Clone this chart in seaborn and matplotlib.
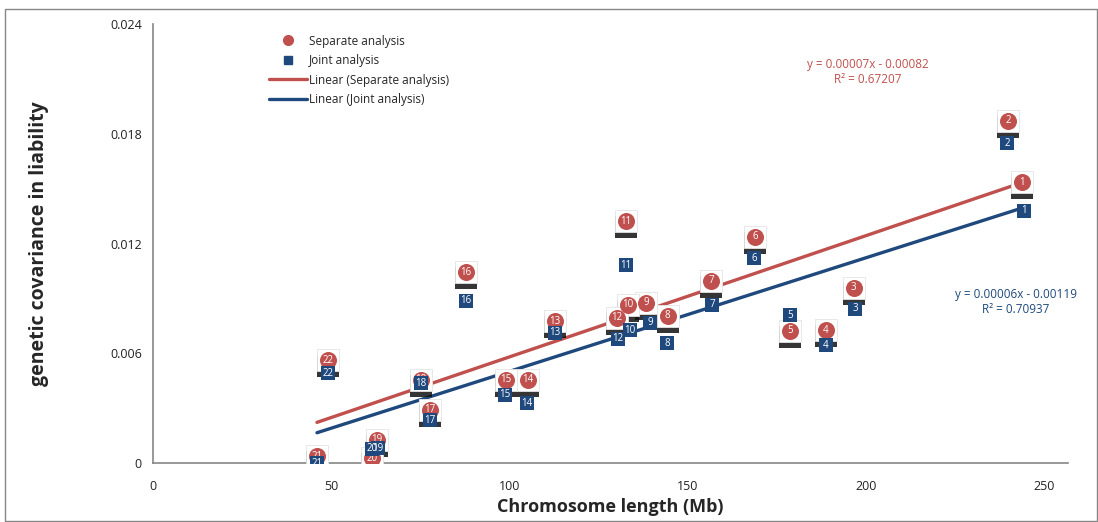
import matplotlib
matplotlib.use("Agg")
import matplotlib.pyplot as plt
import matplotlib.transforms as mtransforms
from matplotlib.lines import Line2D
from matplotlib.patches import Rectangle
import seaborn as sns
import pandas as pd

# ---- data ----
chromosomes = [str(i) for i in range(1, 23)]
sep_length = [243.8, 239.9, 196.6, 188.8, 178.7, 168.9, 156.5, 144.4, 138.3, 133.2, 132.7,
              130.2, 112.8, 105.2, 99.0, 87.8, 77.7, 75.2, 62.8, 61.4, 46.0, 49.1]
sep_cov = [0.01536, 0.01870, 0.00957, 0.00727, 0.00722, 0.01236, 0.00995, 0.00804, 0.00875,
           0.00864, 0.01323, 0.00793, 0.00776, 0.00454, 0.00454, 0.01044, 0.00290, 0.00454,
           0.00126, 0.00027, 0.00038, 0.00563]
joint_length = [244.3, 239.6, 196.9, 188.8, 178.7, 168.6, 156.8, 144.2, 139.4, 133.8, 132.7,
                130.4, 112.8, 104.9, 98.7, 87.8, 77.7, 75.2, 63.1, 61.4, 46.0, 49.1]
joint_cov = [0.01378, 0.01749, 0.00842, 0.00645, 0.00809, 0.01120, 0.00864, 0.00656, 0.00766,
             0.00727, 0.01082, 0.00678, 0.00711, 0.00328, 0.00372, 0.00886, 0.00235, 0.00437,
             0.00082, 0.00077, 0.00000, 0.00492]
x_ticks = [0, 50, 100, 150, 200, 250]
y_ticks = [0, 0.006, 0.012, 0.018, 0.024]
y_tick_labels = ["0", "0.006", "0.012", "0.018", "0.024"]
sep_eq = "y = 0.00007x - 0.00082\nR² = 0.67207"
joint_eq = "y = 0.00006x - 0.00119\nR² = 0.70937"

sep = pd.DataFrame({"length": sep_length, "cov": sep_cov, "chr": chromosomes})
joint = pd.DataFrame({"length": joint_length, "cov": joint_cov, "chr": chromosomes})

RED = "#C0504D"
BLUE = "#1F497D"
GRAY = "#868686"

sns.set_style("white")
plt.rcParams["font.family"] = ["Open Sans", "DejaVu Sans"]

fig = plt.figure(figsize=(10.98, 5.22), dpi=100)
W, H = 1098, 522
ax = fig.add_axes([153 / W, 1 - 463 / H, (1068 - 153) / W, (463 - 24) / H])

# outer chart border
fig.patches.append(Rectangle((5 / W, 1 / H), (W - 6) / W, 1 - 10 / H, transform=fig.transFigure,
                             fill=False, edgecolor=GRAY, lw=1.0, zorder=0))

# regression lines
sns.regplot(data=sep, x="length", y="cov", ax=ax, scatter=False, ci=None,
            line_kws=dict(color=RED, lw=2.4, zorder=2))
sns.regplot(data=joint, x="length", y="cov", ax=ax, scatter=False, ci=None,
            line_kws=dict(color=BLUE, lw=2.4, zorder=2))

# shadow/highlight boxes behind separate markers
shadow_tr = mtransforms.offset_copy(ax.transData, fig=fig, x=0, y=-6, units="dots")
white_tr = mtransforms.offset_copy(ax.transData, fig=fig, x=0, y=0, units="dots")
ax.scatter(sep["length"], sep["cov"], marker="s", s=230, color="#111111", alpha=0.85,
           linewidths=0, transform=shadow_tr, zorder=3)
ax.scatter(sep["length"], sep["cov"], marker="s", s=230, color="white",
           edgecolors="#e4e4e4", linewidths=0.6, transform=white_tr, zorder=3.2)

# markers
sns.scatterplot(data=sep, x="length", y="cov", ax=ax, marker="o", s=150, color=RED,
                edgecolor=RED, linewidth=0, zorder=4, legend=False)
sns.scatterplot(data=joint, x="length", y="cov", ax=ax, marker="s", s=95, color=BLUE,
                edgecolor=BLUE, linewidth=0, zorder=5, legend=False)

for _, r in sep.iterrows():
    ax.text(r["length"], r["cov"], r["chr"], color="white", fontsize=7, ha="center",
            va="center", zorder=4.5)
for _, r in joint.iterrows():
    ax.text(r["length"], r["cov"], r["chr"], color="white", fontsize=7, ha="center",
            va="center", zorder=5.5)

ax.set_xlim(0, 256.7)
ax.set_ylim(0, 0.024)
ax.set_xticks(x_ticks)
ax.set_xticklabels([str(t) for t in x_ticks])
ax.set_yticks(y_ticks)
ax.set_yticklabels(y_tick_labels)
ax.tick_params(axis="both", direction="out", length=4, width=1, color=GRAY,
               labelsize=9, labelcolor="#222222", pad=4)
ax.tick_params(axis="x", pad=8)
for s in ["top", "right"]:
    ax.spines[s].set_visible(False)
for s in ["left", "bottom"]:
    ax.spines[s].set_color(GRAY)
    ax.spines[s].set_linewidth(1.2)

ax.set_xlabel("Chromosome length (Mb)", fontsize=13, fontweight="bold", labelpad=4)
ax.set_ylabel("genetic covariance in liability", fontsize=14, fontweight="bold", labelpad=44)

# equations
ax.text(200.5, 0.0214, sep_eq, color=RED, fontsize=8.5, ha="center", va="center",
        linespacing=1.2)
ax.text(242, 0.0088, joint_eq, color=BLUE, fontsize=8.5, ha="center", va="center",
        linespacing=1.2)

handles = [
    Line2D([], [], marker="o", color=RED, ls="none", markersize=7),
    Line2D([], [], marker="s", color=BLUE, ls="none", markersize=6),
    Line2D([], [], color=RED, lw=2.4),
    Line2D([], [], color=BLUE, lw=2.4),
]
labels = ["Separate analysis", "Joint analysis", "Linear (Separate analysis)",
          "Linear (Joint analysis)"]
ax.legend(handles, labels, loc="upper left", bbox_to_anchor=(0.115, 1.0), frameon=False,
          fontsize=8.5, handlelength=3.2, handletextpad=0.2, labelspacing=0.55)

fig.savefig("out.png", dpi=100)
